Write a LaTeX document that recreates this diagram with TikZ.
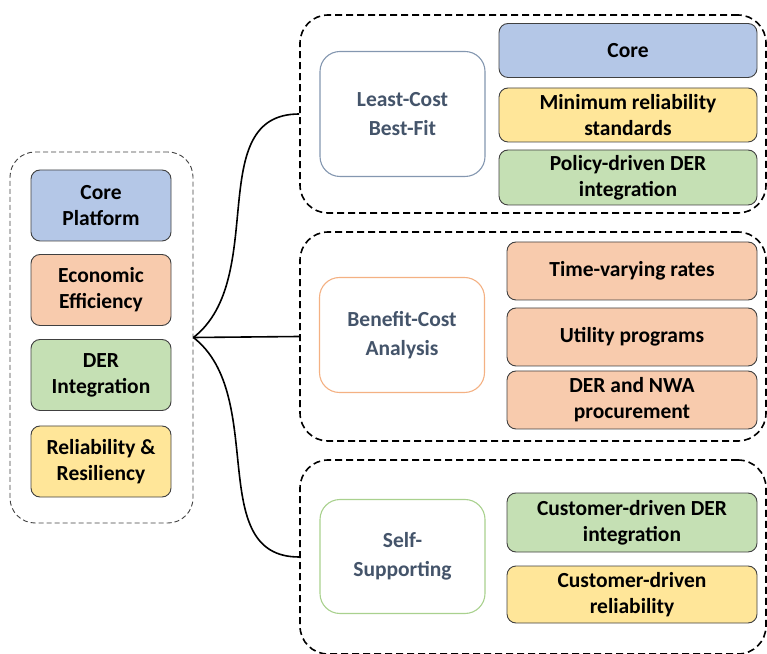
\documentclass[tikz,border=0pt]{standalone}
\usepackage{fontspec}
\setmainfont{Carlito}
\definecolor{coreblue}{HTML}{B4C7E7}
\definecolor{econorange}{HTML}{F8CBAD}
\definecolor{dergreen}{HTML}{C5E0B4}
\definecolor{relyellow}{HTML}{FFE699}
\definecolor{boxline}{HTML}{404040}
\definecolor{slate}{HTML}{44546A}
\definecolor{slateline}{HTML}{8497B0}
\definecolor{orangeline}{HTML}{F4B183}
\definecolor{greenline}{HTML}{A9D18E}
\tikzstyle{group} = [draw = black, dash pattern = on 7pt off 4pt, line width = 1.6pt, rounded corners = 28pt, inner sep = 0pt]
\tikzstyle{pillar} = [draw = boxline, line width = 0.9pt, rounded corners = 9pt, minimum width = 140pt, minimum height = 71pt, align = center, font = \bfseries\fontsize{21.5}{26}\selectfont]
\tikzstyle{approach} = [fill = white, line width = 1.1pt, rounded corners = 20pt, minimum width = 165pt, text = slate, align = center, font = \bfseries\fontsize{21.5}{28.5}\selectfont]
\tikzstyle{item} = [draw = boxline, line width = 0.9pt, rounded corners = 9pt, minimum height = 57pt, align = center, font = \bfseries\fontsize{21.5}{26}\selectfont]

\begin{document}
\begin{tikzpicture}[x = 1pt, y = 1pt]
        \useasboundingbox (0, 0) rectangle (767, 653);

        % pillars on the left
        \node (pillars) at (101.5, 315.5) [group, draw = boxline, line width = 0.9pt, dash pattern = on 5pt off 3pt, rounded corners = 25pt, minimum width = 183pt, minimum height = 371pt] {};
        \node (cp) at (101, 447.5) [pillar, fill = coreblue] {Core\\Platform};
        \node (ee) at (101, 363) [pillar, fill = econorange] {Economic\\Efficiency};
        \node (di) at (101, 278) [pillar, fill = dergreen] {DER\\Integration};
        \node (rr) at (101, 191.5) [pillar, fill = relyellow] {Reliability \&\\Resiliency};
        \coordinate (J) at (pillars.east);

        % the three approaches
        \node (lcGroup) at (533, 539) [group, minimum width = 466pt, minimum height = 198pt] {};
        \node (bcGroup) at (533, 316.5) [group, minimum width = 466pt, minimum height = 209pt] {};
        \node (ssGroup) at (533, 96) [group, minimum width = 466pt, minimum height = 194pt] {};

        \node (lc) at (402.5, 539) [approach, draw = slateline, minimum height = 125pt] {Least-Cost\\Best-Fit};
        \node (bc) at (402, 318) [approach, draw = orangeline, minimum height = 115pt] {Benefit-Cost\\Analysis};
        \node (ss) at (402.5, 96.5) [approach, draw = greenline, minimum height = 114pt] {Self-\\Supporting};

        \node (core) at (628, 602.5) [item, fill = coreblue, minimum width = 258pt, minimum height = 54pt] {Core};
        \node (mr) at (628, 538) [item, fill = relyellow, minimum width = 258pt, minimum height = 54pt] {Minimum reliability\\standards};
        \node (pd) at (628, 475.5) [item, fill = dergreen, minimum width = 258pt, minimum height = 55pt] {Policy-driven DER\\integration};

        \node (tv) at (632, 382) [item, fill = econorange, minimum width = 250pt, minimum height = 58pt] {Time-varying rates};
        \node (up) at (632, 316) [item, fill = econorange, minimum width = 250pt, minimum height = 58pt] {Utility programs};
        \node (dn) at (632, 253) [item, fill = econorange, minimum width = 250pt, minimum height = 58pt] {DER and NWA\\procurement};

        \node (cd) at (632, 130.5) [item, fill = dergreen, minimum width = 250pt, minimum height = 59pt] {Customer-driven DER\\integration};
        \node (cr) at (632, 58.5) [item, fill = relyellow, minimum width = 250pt] {Customer-driven\\reliability};

        \draw [line width = 1.6pt] (J) to[out = 38, in = 180] (lcGroup.west);
        \draw [line width = 1.6pt] (J) -- (bcGroup.west);
        \draw [line width = 1.6pt] (J) to[out = -38, in = 180] (ssGroup.west);
\end{tikzpicture}
\end{document}
